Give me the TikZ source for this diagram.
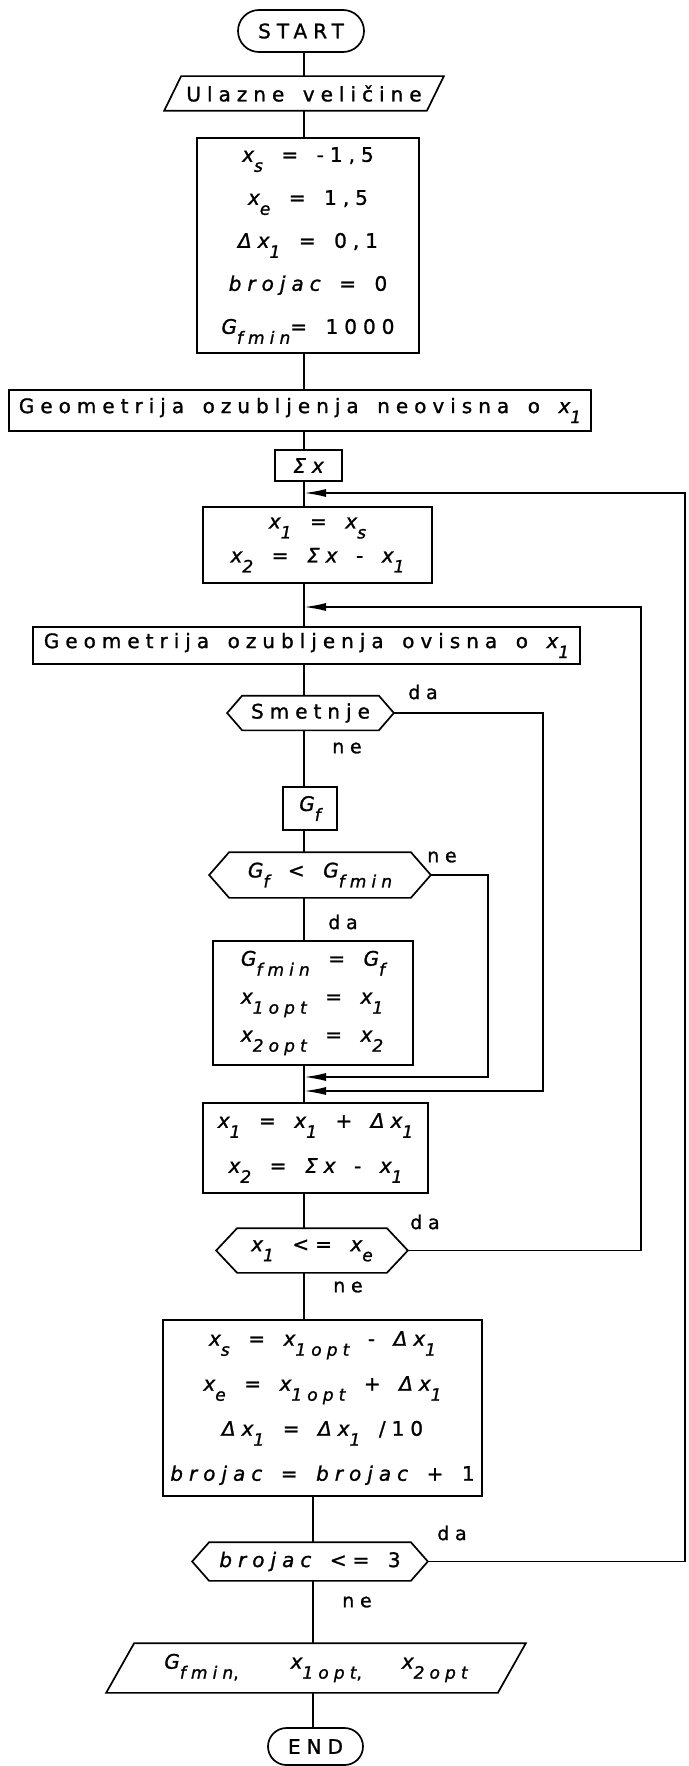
\documentclass[tikz,border=0pt]{standalone}
\usepackage{fontspec}
\setmainfont{DejaVu Sans}[LetterSpace=30,FakeBold=1.2,WordSpace=1.5]
\usetikzlibrary{arrows.meta}
\newcommand\lo[1]{\raisebox{-0.5em}{\fontsize{17}{17}\selectfont #1}}
\newcommand\vi[1]{{\itshape #1}}
\newcommand\hexo[2]{\draw ([xshift=#2]#1.north west) -- ([xshift=-#2]#1.north east) -- (#1.east) -- ([xshift=-#2]#1.south east) -- ([xshift=#2]#1.south west) -- (#1.west) -- cycle;}
\newcommand\paro[2]{\draw (#1.south west) -- ([xshift=-#2]#1.south east) -- (#1.north east) -- ([xshift=#2]#1.north west) -- cycle;}
\begin{document}
\begin{tikzpicture}[x=1pt,y=-1pt,line width=1.7pt,
  every node/.style={inner sep=0pt,font=\fontsize{20}{24}\selectfont},
  box/.style={draw,rectangle},
  plain/.style={rectangle},
  term/.style={draw,rectangle},
  lab/.style={font=\fontsize{19}{19}\selectfont},
  arr/.style={-{Latex[length=22pt,width=8pt]}}]
\fill[white] (0,0) rectangle (688,1766);
\useasboundingbox (0,0) rectangle (688,1766);
\coordinate (ax) at (304,0);
\coordinate (bx) at (313,0);
% nodes
\node[term,minimum width=126,minimum height=42,rounded corners=21] (start) at (301,31) {START};
\node[plain,minimum width=278,minimum height=33] (inp) at (304,93.5) {Ulazne veličine};
\paro{inp}{17}
\node[box,minimum width=222,minimum height=215,align=center,font=\fontsize{20}{43}\selectfont] (init) at (308,245.5)
 {\vi{x}\lo{\vi{s}} = -1,5\\ \vi{x}\lo{\vi{e}} = 1,5\\ \vi{Δx}\lo{\vi{1}} = 0,1\\ \vi{brojac} = 0\\ \vi{G}\lo{\vi{fmin}}= 1000};
\node[box,minimum width=582,minimum height=41] (geo1) at (300,410.5) {Geometrija ozubljenja neovisna o \vi{x}\lo{\vi{1}}};
\node[box,minimum width=67,minimum height=31] (sig) at (308.5,465.5) {\vi{Σx}};
\coordinate (j1) at (304,493);
\node[box,minimum width=229,minimum height=76,align=center,font=\fontsize{20}{34}\selectfont] (xa) at (317.5,545)
 {\vi{x}\lo{\vi{1}} = \vi{x}\lo{\vi{s}}\\ \vi{x}\lo{\vi{2}} = \vi{Σx} - \vi{x}\lo{\vi{1}}};
\coordinate (j2) at (304,607);
\node[box,minimum width=547,minimum height=37] (geo2) at (306.5,645.5) {Geometrija ozubljenja ovisna o \vi{x}\lo{\vi{1}}};
\node[plain,minimum width=165,minimum height=33] (sm) at (310.5,713) {Smetnje};
\hexo{sm}{15}
\node[box,minimum width=54,minimum height=43] (gf) at (310,808.5) {\vi{G}\lo{\vi{f}}};
\node[plain,minimum width=220,minimum height=44] (cmp) at (320,875) {\vi{G}\lo{\vi{f}} < \vi{G}\lo{\vi{fmin}}};
\hexo{cmp}{20}
\node[box,minimum width=200,minimum height=124,align=left,font=\fontsize{20}{38}\selectfont] (gmin) at (313,1003)
 {\vi{G}\lo{\vi{fmin}} = \vi{G}\lo{\vi{f}}\\ \vi{x}\lo{\vi{1opt}} = \vi{x}\lo{\vi{1}}\\ \vi{x}\lo{\vi{2opt}} = \vi{x}\lo{\vi{2}}};
\coordinate (j3) at (304,1077);
\coordinate (j4) at (304,1091);
\node[box,minimum width=225,minimum height=90,align=center,font=\fontsize{20}{45}\selectfont] (upd) at (315.5,1148)
 {\vi{x}\lo{\vi{1}} = \vi{x}\lo{\vi{1}} + \vi{Δx}\lo{\vi{1}}\\ \vi{x}\lo{\vi{2}} = \vi{Σx} - \vi{x}\lo{\vi{1}}};
\node[plain,minimum width=190,minimum height=43] (le) at (312,1250.5) {\vi{x}\lo{\vi{1}} <= \vi{x}\lo{\vi{e}}};
\hexo{le}{21}
\node[box,minimum width=319,minimum height=176,align=center,font=\fontsize{20}{45}\selectfont] (big) at (322.5,1408)
 {\vi{x}\lo{\vi{s}} = \vi{x}\lo{\vi{1opt}} - \vi{Δx}\lo{\vi{1}}\\
  \vi{x}\lo{\vi{e}} = \vi{x}\lo{\vi{1opt}} + \vi{Δx}\lo{\vi{1}}\\
  \vi{Δx}\lo{\vi{1}} = \vi{Δx}\lo{\vi{1}} /10\\
  \vi{brojac} = \vi{brojac} + 1};
\node[plain,minimum width=234,minimum height=37] (cnt) at (310,1561.5) {\vi{brojac} <= 3};
\hexo{cnt}{17}
\node[plain,minimum width=418,minimum height=48] (out) at (316,1668) {\vi{G}\lo{\vi{fmin},}\hspace{52pt}\vi{x}\lo{\vi{1opt},}\hspace{40pt}\vi{x}\lo{\vi{2opt}}};
\paro{out}{28}
\node[term,minimum width=95,minimum height=37,rounded corners=18.5] (stop) at (315.5,1746.5) {END};
% labels
\node[lab] (l1) at (423,692) {da};
\node[lab] (l2) at (347,748) {ne};
\node[lab] (l3) at (442,857) {ne};
\node[lab] (l4) at (343,922) {da};
\node[lab] (l5) at (425,1222) {da};
\node[lab] (l6) at (348,1287) {ne};
\node[lab] (l7) at (452,1533) {da};
\node[lab] (l8) at (357,1602) {ne};
% main flow
\draw (start.south -| ax) -- (inp.north -| ax);
\draw (inp.south -| ax) -- (init.north -| ax);
\draw (init.south -| ax) -- (geo1.north -| ax);
\draw (geo1.south -| ax) -- (sig.north -| ax);
\draw (sig.south -| ax) -- (xa.north -| ax);
\draw (xa.south -| ax) -- (geo2.north -| ax);
\draw (geo2.south -| ax) -- (sm.north -| ax);
\draw (sm.south -| ax) -- (gf.north -| ax);
\draw (gf.south -| ax) -- (cmp.north -| ax);
\draw (cmp.south -| ax) -- (gmin.north -| ax);
\draw (gmin.south -| ax) -- (upd.north -| ax);
\draw (upd.south -| ax) -- (le.north -| ax);
\draw (le.south -| ax) -- (big.north -| ax);
\draw (big.south -| bx) -- (cnt.north -| bx);
\draw (cnt.south -| bx) -- (out.north -| bx);
\draw (out.south -| bx) -- (stop.north -| bx);
% loops
\coordinate (r1) at (685,0);
\coordinate (r2) at (641,0);
\coordinate (r3) at (543,0);
\coordinate (r4) at (488,0);
\draw[arr] (cnt.east) -| (r1 |- j1) -- (j1);
\draw[arr] (le.east) -| (r2 |- j2) -- (j2);
\draw[arr] (sm.east) -| (r3 |- j4) -- (j4);
\draw[arr] (cmp.east) -| (r4 |- j3) -- (j3);
\end{tikzpicture}
\end{document}
